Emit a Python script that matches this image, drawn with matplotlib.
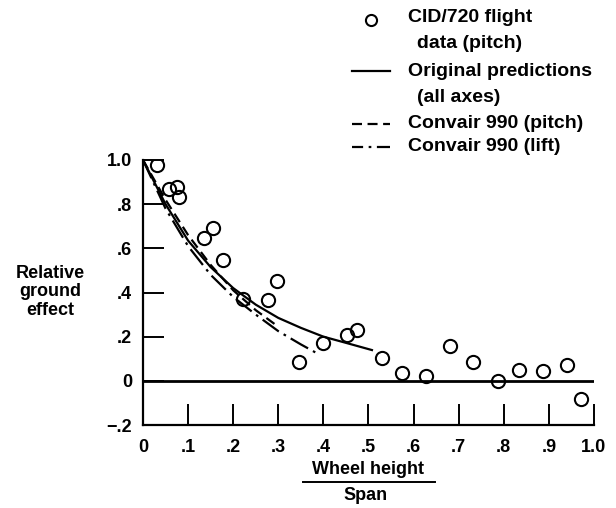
import matplotlib
matplotlib.use("Agg")
import matplotlib.pyplot as plt
from matplotlib.lines import Line2D

plt.rcParams['font.family'] = ['Liberation Sans', 'DejaVu Sans']
plt.rcParams['font.weight'] = 'bold'

# flight data (pitch)
data_x = [0.032, 0.057, 0.075, 0.080, 0.135, 0.155, 0.177, 0.221, 0.277, 0.297,
          0.346, 0.399, 0.452, 0.474, 0.530, 0.574, 0.627, 0.681, 0.732, 0.787,
          0.834, 0.887, 0.940, 0.971]
data_y = [0.977, 0.867, 0.876, 0.831, 0.648, 0.691, 0.547, 0.371, 0.368, 0.453,
          0.085, 0.172, 0.206, 0.231, 0.105, 0.034, 0.021, 0.158, 0.085, -0.002,
          0.048, 0.043, 0.071, -0.082]

# original predictions (all axes)
orig_x = [0, 0.05, 0.10, 0.15, 0.20, 0.25, 0.30, 0.35, 0.40, 0.45, 0.51]
orig_y = [1.0, 0.80, 0.635, 0.515, 0.42, 0.345, 0.285, 0.24, 0.20, 0.172, 0.138]

# Convair 990 (pitch)
pitch_x = [0, 0.05, 0.10, 0.15, 0.20, 0.25, 0.30]
pitch_y = [1.0, 0.82, 0.66, 0.525, 0.41, 0.32, 0.245]

# Convair 990 (lift)
lift_x = [0, 0.05, 0.10, 0.15, 0.20, 0.25, 0.30, 0.35, 0.39]
lift_y = [1.0, 0.78, 0.61, 0.48, 0.38, 0.30, 0.225, 0.165, 0.12]

xticks = [0.1, 0.2, 0.3, 0.4, 0.5, 0.6, 0.7, 0.8, 0.9, 1.0]
xlabels = ['.1', '.2', '.3', '.4', '.5', '.6', '.7', '.8', '.9', '1.0']
yticks = [-0.2, 0.0, 0.2, 0.4, 0.6, 0.8, 1.0]
ylabels = ['\u2212.2', '0', '.2', '.4', '.6', '.8', '1.0']

W, H = 616, 508
fig = plt.figure(figsize=(W / 100, H / 100), dpi=100)
ax = fig.add_axes([143 / W, 1 - 425 / H, 451 / W, 265 / H])
ax.set_xlim(0, 1.0)
ax.set_ylim(-0.2, 1.0)

lw = 1.6
ax.axhline(0, color='black', lw=2.0, zorder=2)
ax.plot(orig_x, orig_y, color='black', lw=lw, solid_capstyle='butt')
ax.plot(pitch_x, pitch_y, color='black', lw=lw, linestyle=(0, (4.5, 2.5)))
ax.plot(lift_x, lift_y, color='black', lw=lw, linestyle=(0, (9, 2.5, 1.2, 2.5)))
ax.plot(data_x, data_y, linestyle='none', marker='o', markersize=9.5,
        markerfacecolor='none', markeredgecolor='black', markeredgewidth=1.5, zorder=3)

for s in ['top', 'right']:
    ax.spines[s].set_visible(False)
for s in ['left', 'bottom']:
    ax.spines[s].set_linewidth(1.6)

ax.set_xticks([0] + xticks)
ax.set_xticklabels(['0'] + xlabels)
ax.set_yticks(yticks)
ax.set_yticklabels(ylabels)
ax.tick_params(axis='x', direction='in', length=15, width=1.4, pad=10, labelsize=13)
ax.tick_params(axis='y', direction='in', length=15, width=1.4, pad=8, labelsize=13)
for t in ax.get_xticklabels() + ax.get_yticklabels():
    t.set_fontweight('bold')

# axis labels
fig.text(50 / W, 1 - 292 / H, 'Relative\nground\neffect', ha='center', va='center',
         fontsize=13, fontweight='bold', linespacing=1.15)
fig.text(368 / W, 1 - 470 / H, 'Wheel height', ha='center', va='center',
         fontsize=13, fontweight='bold')
fig.add_artist(Line2D([303 / W, 435 / W], [1 - 482 / H, 1 - 482 / H], color='black', lw=1.4))
fig.text(366 / W, 1 - 496 / H, 'Span', ha='center', va='center',
         fontsize=13, fontweight='bold')

# legend
lx0, lx1 = 352 / W, 390 / W
tx, tx2 = 408 / W, 417 / W
fs = 14
rows = [18, 44, 71, 97, 124, 147]
fig.add_artist(Line2D([371 / W], [1 - 20 / H], marker='o', markersize=8,
                      markerfacecolor='none', markeredgecolor='black', markeredgewidth=1.5))
fig.text(tx, 1 - rows[0] / H, 'CID/720 flight', va='center', fontsize=fs, fontweight='bold')
fig.text(tx2, 1 - rows[1] / H, 'data (pitch)', va='center', fontsize=fs, fontweight='bold')
fig.add_artist(Line2D([lx0, lx1], [1 - rows[2] / H] * 2, color='black', lw=lw))
fig.text(tx, 1 - rows[2] / H, 'Original predictions', va='center', fontsize=fs, fontweight='bold')
fig.text(tx2, 1 - rows[3] / H, '(all axes)', va='center', fontsize=fs, fontweight='bold')
fig.add_artist(Line2D([lx0, lx1], [1 - rows[4] / H] * 2, color='black', lw=lw,
                      linestyle=(0, (4.5, 2.5))))
fig.text(tx, 1 - rows[4] / H, 'Convair 990 (pitch)', va='center', fontsize=fs, fontweight='bold')
fig.add_artist(Line2D([lx0, lx1], [1 - rows[5] / H] * 2, color='black', lw=lw,
                      linestyle=(0, (5, 2.5, 1.2, 2.5, 9, 1))))
fig.text(tx, 1 - rows[5] / H, 'Convair 990 (lift)', va='center', fontsize=fs, fontweight='bold')

fig.savefig('out.png', dpi=100, facecolor='white')
